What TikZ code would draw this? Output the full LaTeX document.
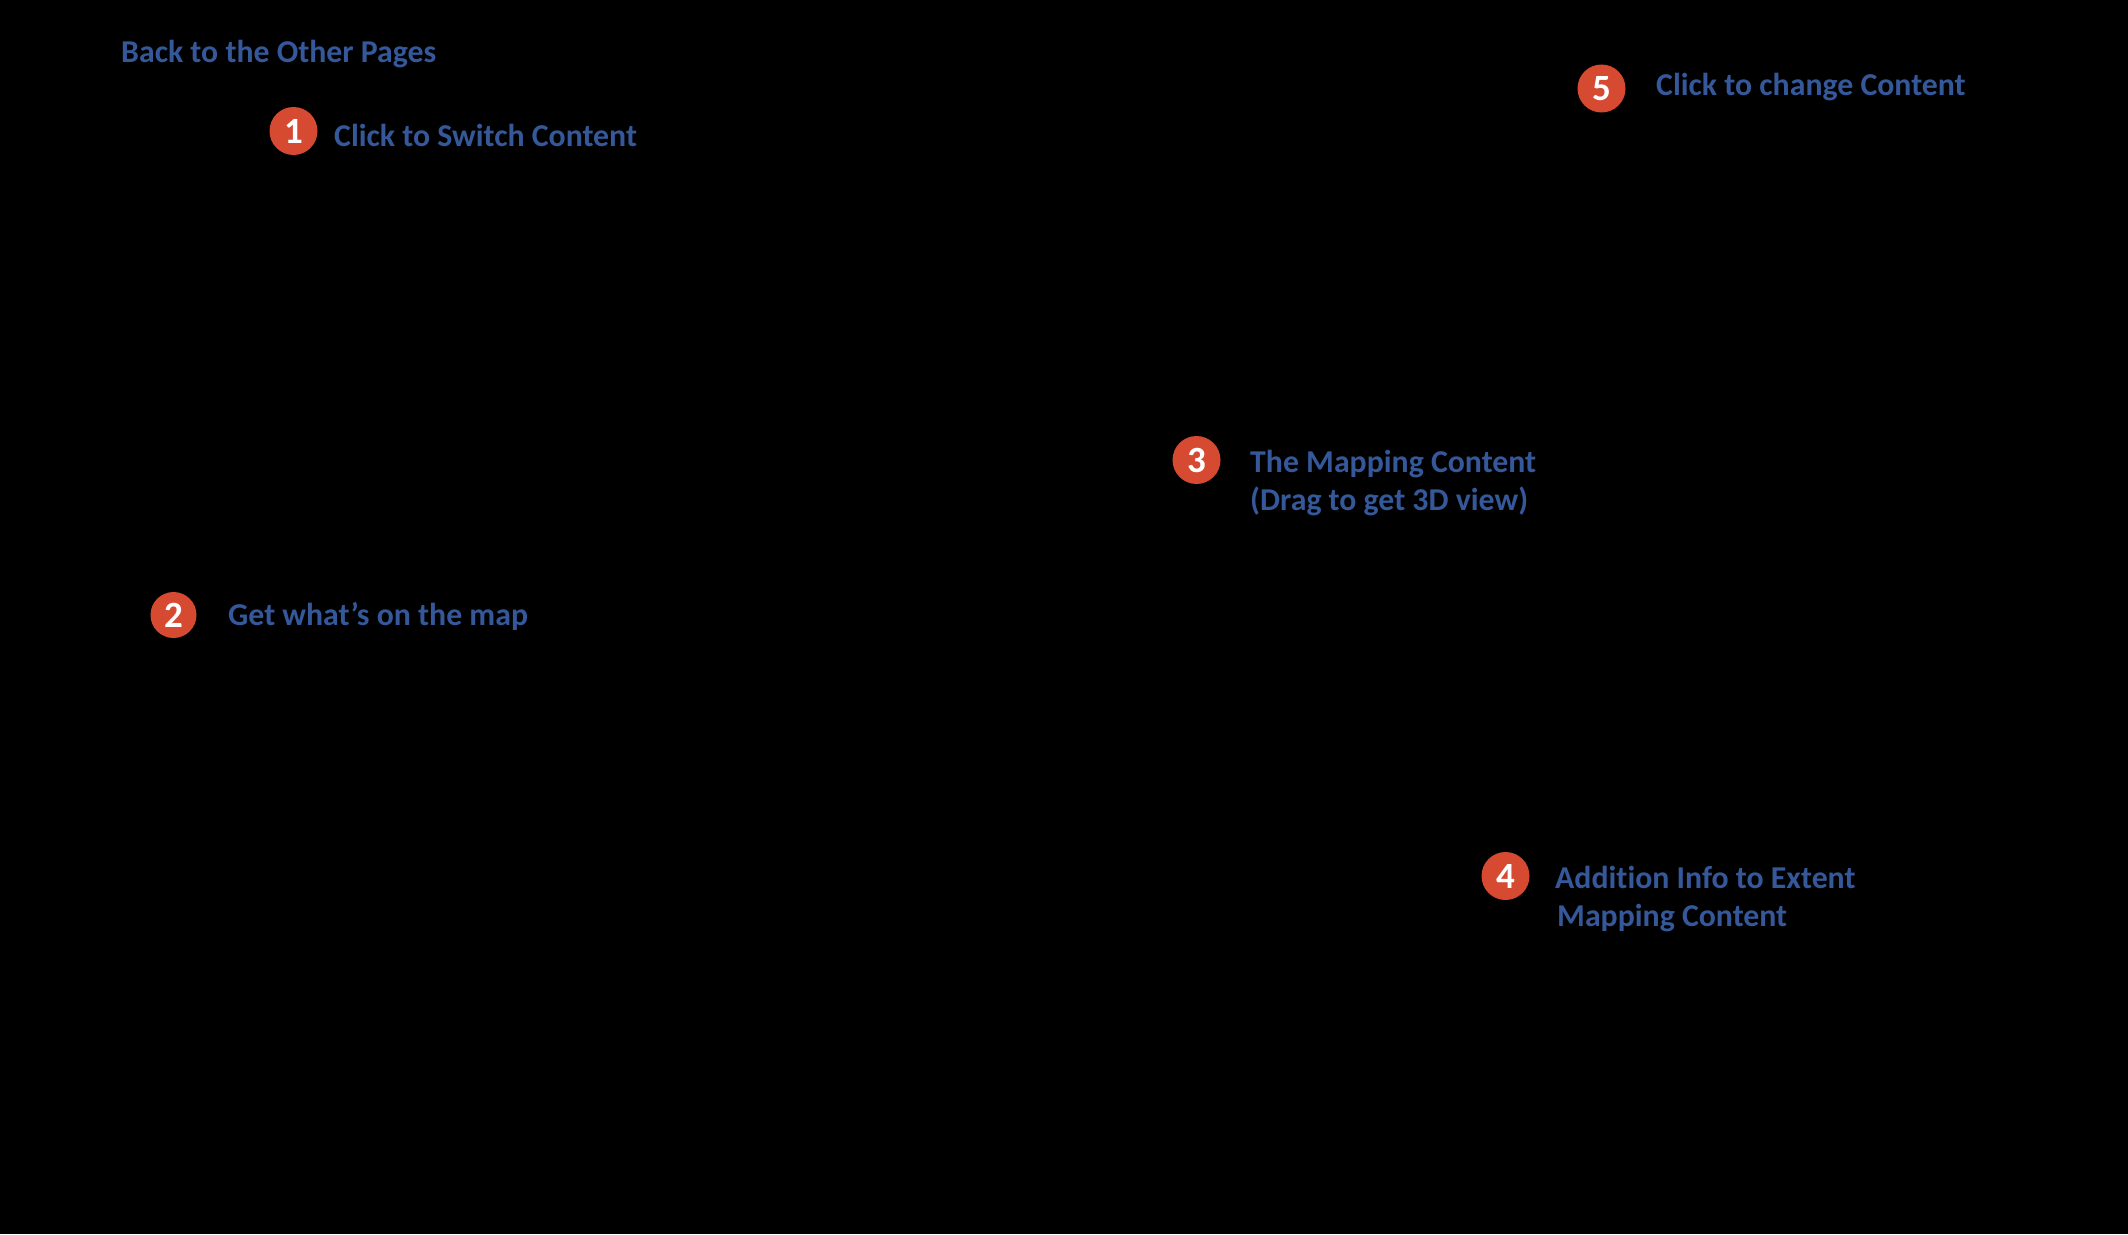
\documentclass[tikz,border=0pt]{standalone}
\usepackage{fontspec}
\setmainfont{Carlito}[RawFeature=-liga]
\definecolor{labelblue}{HTML}{35589A}
\definecolor{badgered}{HTML}{D64A32}
\begin{document}
\begin{tikzpicture}[x=1pt,y=-1pt,
  badge/.style={circle,fill=badgered,minimum size=48pt,inner sep=0pt,text=white,font=\fontsize{37}{40}\selectfont\bfseries},
  lbl/.style={anchor=base west,inner sep=0pt,text=labelblue,font=\fontsize{31.8}{36}\selectfont\bfseries}]
\fill[black] (0,0) rectangle (2128,1234);
\useasboundingbox (0,0) rectangle (2128,1234);
\node[lbl] (back) at (121,62) {Back to the Other Pages};
\node[badge] (n1) at (293.5,131) {1};
\node[lbl] (t1) at (334,146) {Click to Switch Content};
\node[badge] (n5) at (1601.5,88.5) {5};
\node[lbl] (t5) at (1656,95) {Click to change Content};
\node[badge] (n3) at (1196.5,460) {3};
\node[lbl] (t3a) at (1250,472) {The Mapping Content};
\node[lbl] (t3b) at (1250,510) {(Drag to get 3D view)};
\node[badge,minimum size=46pt] (n2) at (173.5,615) {2};
\node[lbl] (t2) at (228,625) {Get what’s on the map};
\node[badge] (n4) at (1505.5,876) {4};
\node[lbl] (t4a) at (1555,888) {Addition Info to Extent};
\node[lbl] (t4b) at (1557,926) {Mapping Content};
\end{tikzpicture}
\end{document}
